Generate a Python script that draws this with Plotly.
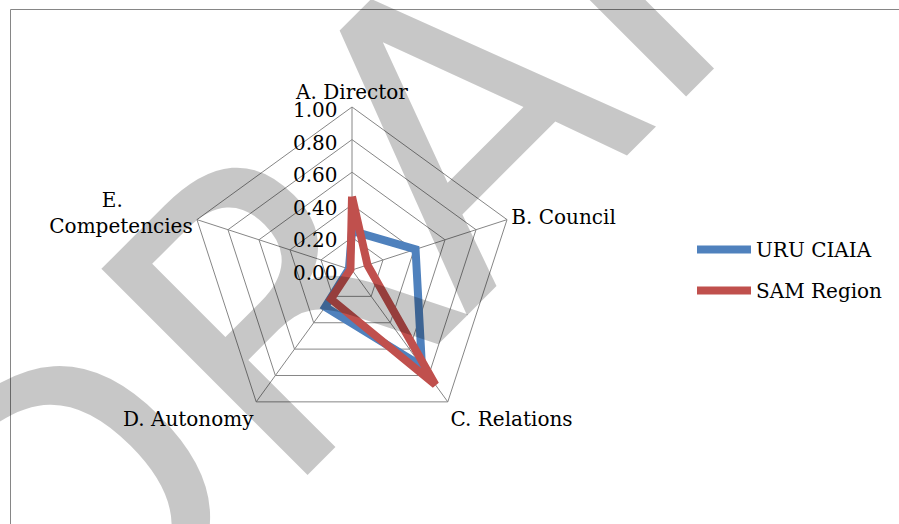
import plotly.graph_objects as go

# Radar categories and the two series scores
categories = ["A. Director", "B. Council", "C. Relations", "D. Autonomy",
              "E." + "\u00a0" * 11 + "<br>Competencies"]
uru_ciaia = [0.24, 0.41, 0.73, 0.28, 0.02]
sam_region = [0.45, 0.10, 0.87, 0.22, 0.01]
radial_ticks = [0.0, 0.2, 0.4, 0.6, 0.8, 1.0]
radial_tick_labels = ["0.00", "0.20", "0.40", "0.60", "0.80", "1.00"]

W, H = 899, 524
CX, CY, RAD = 352, 270, 163          # centre and outer radius of the radar, px
GRID = "#868686"
SERIF = "DejaVu Serif"


def closed(values):
    return list(values) + [values[0]]


fig = go.Figure()
for name, vals, color in [
    ("URU CIAIA", uru_ciaia, "#4F81BD"),
    ("SAM Region", sam_region, "#C0504D"),
]:
    fig.add_trace(go.Scatterpolar(
        r=closed(vals),
        theta=closed(categories),
        mode="lines",
        name=name,
        legendgroup=name,
        line=dict(color=color, width=8),
    ))

fig.update_layout(
    width=W, height=H,
    margin=dict(l=0, r=0, t=0, b=0, autoexpand=False),
    paper_bgcolor="white",
    plot_bgcolor="white",
    font=dict(family=SERIF, size=20, color="black"),
    polar=dict(
        domain=dict(x=[(CX - RAD) / W, (CX + RAD) / W],
                    y=[1 - (CY + RAD) / H, 1 - (CY - RAD) / H]),
        gridshape="linear",
        bgcolor="white",
        radialaxis=dict(
            range=[0, 1],
            tickvals=radial_ticks,
            ticktext=radial_tick_labels,
            angle=90,
            side="counterclockwise",
            showline=False,
            ticks="",
            gridcolor=GRID,
            gridwidth=1,
            tickfont=dict(family=SERIF, size=20, color="black"),
        ),
        angularaxis=dict(
            rotation=90,
            direction="clockwise",
            showline=True,
            linecolor=GRID,
            linewidth=1,
            gridcolor=GRID,
            gridwidth=1,
            ticks="",
            tickfont=dict(family=SERIF, size=20, color="black"),
        ),
    ),
    showlegend=True,
    legend=dict(
        x=692 / W, y=1 - 230 / H, xanchor="left", yanchor="top",
        font=dict(family=SERIF, size=20, color="black"),
        tracegroupgap=12,
        itemwidth=54,
        bgcolor="rgba(0,0,0,0)",
    ),
    shapes=[
        dict(type="path", xref="paper", yref="paper",
             path=f"M {10.5 / W},0 L {10.5 / W},{1 - 9.5 / H} L 1,{1 - 9.5 / H}",
             line=dict(color=GRID, width=1)),
    ],
    annotations=[
        dict(text="DRAFT", xref="paper", yref="paper",
             x=429 / W, y=1 - 157 / H, xanchor="center", yanchor="middle",
             textangle=-45, showarrow=False,
             font=dict(family="DejaVu Sans", size=400, color="rgba(0,0,0,0.22)")),
    ],
)

fig.write_html("out.html")
